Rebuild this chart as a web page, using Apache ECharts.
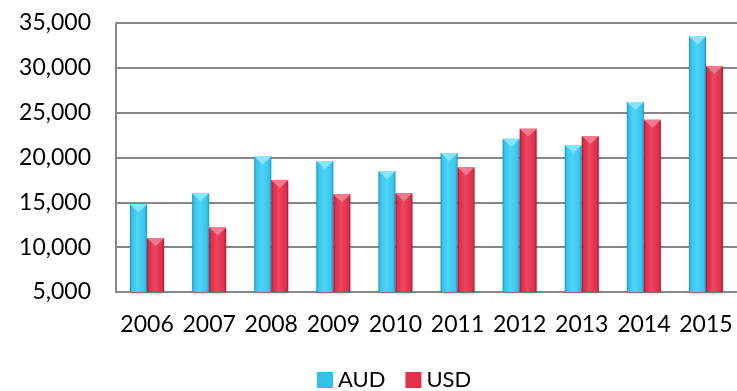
<!DOCTYPE html>
<html>
<head>
<meta charset="utf-8">
<script src="https://cdn.jsdelivr.net/npm/echarts@6/dist/echarts.min.js"></script>
<style>
html,body{margin:0;padding:0;background:#fff;}
#chart{width:737px;height:391px;}
</style>
</head>
<body>
<div id="chart"></div>
<script>
const categories = ['2006','2007','2008','2009','2010','2011','2012','2013','2014','2015'];
const audValues = [14800, 16000, 20100, 19600, 18500, 20500, 22100, 21400, 26200, 33500];
const usdValues = [11000, 12200, 17500, 15900, 16000, 18900, 23200, 22400, 24200, 30200];
const yTicks = { min: 5000, max: 35000, interval: 5000 };

const FONT = 'Lato';
function grad(dark, light, mid) {
  return new echarts.graphic.LinearGradient(0, 0, 1, 0, [
    { offset: 0, color: dark },
    { offset: 0.12, color: mid },
    { offset: 0.45, color: light },
    { offset: 0.88, color: mid },
    { offset: 1, color: dark }
  ]);
}
const audColor = grad('#1c94bd', '#4fd4f6', '#36c4ec');
const usdColor = grad('#a8172f', '#ee4561', '#dc2f4b');
const tri = 'path://M0,0 L10,0 L5,5 Z';

const chart = echarts.init(document.getElementById('chart'), null, { renderer: 'canvas' });
chart.setOption({
  animation: false,
  backgroundColor: '#ffffff',
  grid: { left: 116, right: -6, top: 23, bottom: 99, containLabel: false },
  legend: {
    data: [
      { name: 'AUD', icon: 'rect', itemStyle: { color: '#33c1ea' } },
      { name: 'USD', icon: 'rect', itemStyle: { color: '#e2314d' } }
    ],
    left: 312, top: 364,
    itemWidth: 16, itemHeight: 16, itemGap: 20,
    textStyle: { fontFamily: FONT, fontSize: 22, color: '#000' }
  },
  xAxis: {
    type: 'category',
    data: categories,
    axisLine: { show: true, lineStyle: { color: '#878787', width: 2 } },
    axisTick: { show: false },
    axisLabel: { fontFamily: FONT, fontSize: 23, color: '#000', margin: 21, interval: 0 },
    splitLine: { show: false }
  },
  yAxis: {
    type: 'value',
    min: yTicks.min, max: yTicks.max, interval: yTicks.interval,
    axisLine: { show: true, lineStyle: { color: '#878787', width: 2 } },
    axisTick: { show: false },
    axisLabel: {
      fontFamily: FONT, fontSize: 23, color: '#000', margin: 25,
      formatter: v => v.toLocaleString('en-US')
    },
    splitLine: { show: true, lineStyle: { color: '#878787', width: 2 } }
  },
  series: [
    {
      name: 'AUD', type: 'bar', data: audValues,
      barWidth: 17, barGap: '0%',
      itemStyle: { color: audColor, shadowColor: 'rgba(0,0,0,0.18)', shadowBlur: 3, shadowOffsetY: 2 }
    },
    {
      name: 'USD', type: 'bar', data: usdValues,
      barWidth: 17, barGap: '0%',
      itemStyle: { color: usdColor, shadowColor: 'rgba(0,0,0,0.18)', shadowBlur: 3, shadowOffsetY: 2 }
    },
    {
      name: 'AUD', type: 'pictorialBar', data: audValues,
      symbol: tri, symbolSize: [17, 8], symbolPosition: 'end',
      symbolOffset: [-8.5, 0], z: 5, legendHoverLink: false,
      itemStyle: { color: '#86e6fb' }
    },
    {
      name: 'USD', type: 'pictorialBar', data: usdValues,
      symbol: tri, symbolSize: [17, 8], symbolPosition: 'end',
      symbolOffset: [8.5, 0], z: 5, legendHoverLink: false,
      itemStyle: { color: '#f27a8e' }
    }
  ]
});
</script>
</body>
</html>
